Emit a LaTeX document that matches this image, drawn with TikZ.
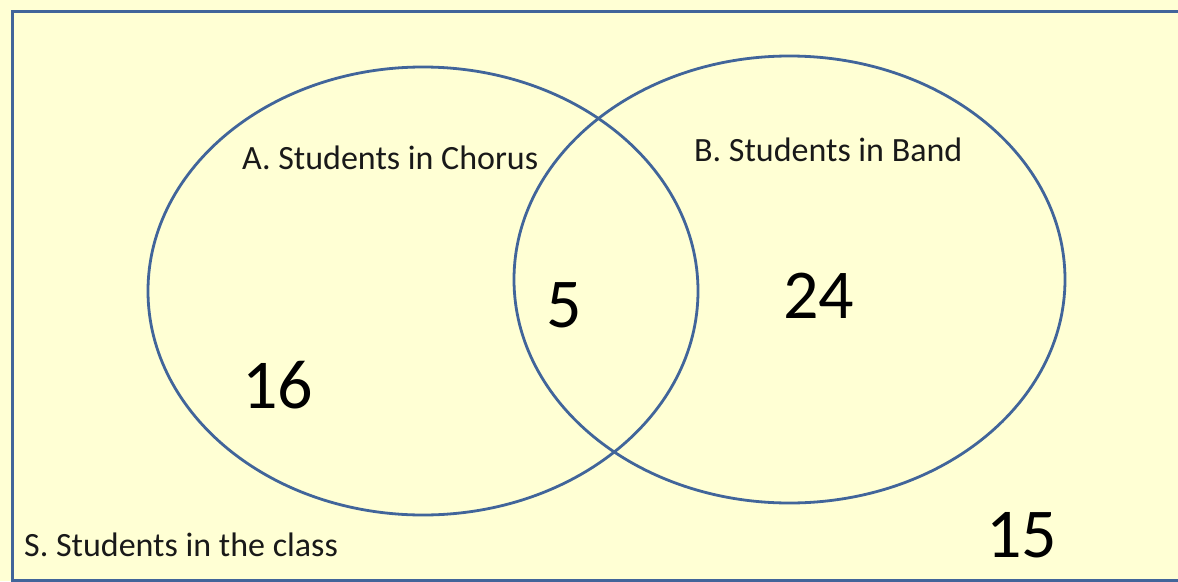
\documentclass[tikz,border=0pt]{standalone}
\usepackage{fontspec}
\setmainfont{Carlito}
\usetikzlibrary{shapes.geometric}
\definecolor{bg}{HTML}{FFFFD4}
\definecolor{edge}{HTML}{41659A}
\tikzset{
  setline/.style={draw=edge, line width=2.8pt},
  label/.style={anchor=base west, inner sep=0pt, font=\fontsize{34}{38}\selectfont, text=black!90},
  count/.style={anchor=base west, inner sep=0pt, font=\fontsize{70}{78}\selectfont, text=black},
}
\begin{document}
\begin{tikzpicture}[x=1pt,y=-1pt]
\useasboundingbox (0,0) rectangle (1178,581);
\fill[bg] (0,0) rectangle (1178,581);
\draw[edge, line width=3pt] (12,11) rectangle (1200,580);
\node[setline, ellipse, minimum width=550pt, minimum height=448pt, inner sep=0pt] (A) at (423,291) {};
\node[setline, ellipse, minimum width=551pt, minimum height=447pt, inner sep=0pt] (B) at (789.5,279.5) {};
\node[label] (la) at (242,169) {A. Students in Chorus};
\node[label] (lb) at (694,161) {B. Students in Band};
\node[label] (ls) at (24,556) {S. Students in the class};
\node[count] (n16) at (242,408) {16};
\node[count] (n5) at (546,327) {5};
\node[count] (n24) at (783,318) {24};
\node[count] (n15) at (986,557) {15};
\end{tikzpicture}
\end{document}
